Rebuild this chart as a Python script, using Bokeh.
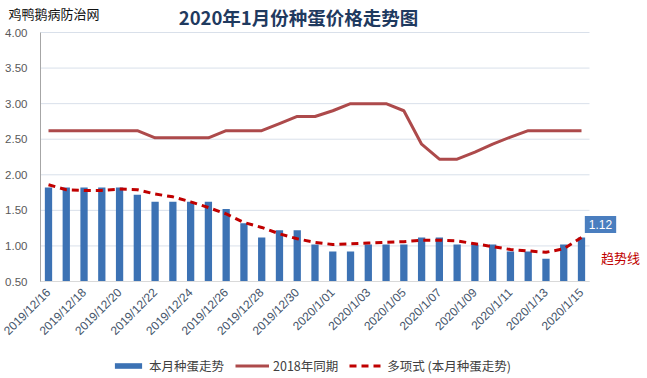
import math
from bokeh.plotting import figure
from bokeh.models import (ColumnDataSource, FixedTicker, Label, Legend, LegendItem,
                          Range1d)
from bokeh.embed import file_html
from bokeh.resources import INLINE

# ---------------- data ----------------
dates = ["2019/12/16", "2019/12/17", "2019/12/18", "2019/12/19", "2019/12/20",
         "2019/12/21", "2019/12/22", "2019/12/23", "2019/12/24", "2019/12/25",
         "2019/12/26", "2019/12/27", "2019/12/28", "2019/12/29", "2019/12/30",
         "2019/12/31", "2020/1/01", "2020/1/02", "2020/1/03", "2020/1/04",
         "2020/1/05", "2020/1/06", "2020/1/07", "2020/1/08", "2020/1/09",
         "2020/1/10", "2020/1/11", "2020/1/12", "2020/1/13", "2020/1/14",
         "2020/1/15"]

this_month = [1.82, 1.82, 1.82, 1.82, 1.82, 1.72, 1.62, 1.62, 1.62, 1.62,
              1.52, 1.32, 1.12, 1.22, 1.22, 1.02, 0.92, 0.92, 1.02, 1.02,
              1.02, 1.12, 1.12, 1.02, 1.02, 1.02, 0.92, 0.92, 0.82, 1.02,
              1.12]

same_period_2018 = [2.62, 2.62, 2.62, 2.62, 2.62, 2.62, 2.52, 2.52, 2.52, 2.52,
                    2.62, 2.62, 2.62, 2.72, 2.82, 2.82, 2.90, 3.00, 3.00, 3.00,
                    2.90, 2.43, 2.22, 2.22, 2.32, 2.43, 2.53, 2.62, 2.62, 2.62,
                    2.62]

trend = [1.86, 1.79, 1.78, 1.78, 1.80, 1.79, 1.73, 1.69, 1.62, 1.54,
         1.45, 1.33, 1.26, 1.17, 1.10, 1.05, 1.02, 1.03, 1.04, 1.05,
         1.06, 1.08, 1.08, 1.07, 1.03, 0.99, 0.95, 0.93, 0.91, 0.96,
         1.12]

y_ticks = [0.5, 1.0, 1.5, 2.0, 2.5, 3.0, 3.5, 4.0]

series_names = ["本月种蛋走势", "2018年同期", "多项式 (本月种蛋走势)"]
title_text = "2020年1月份种蛋价格走势图"
watermark = "鸡鸭鹅病防治网"
trend_note = "趋势线"

# ---------------- layout constants (pixels) ----------------
W, H = 647, 378
FRAME_L, FRAME_R, FRAME_T, FRAME_B = 40, 589, 32, 281   # visual plot area
X0_PX, XN_PX = 48, 581                                  # first / last category centre

n = len(dates)
px_per_x = (XN_PX - X0_PX) / (n - 1)
px_per_y = (FRAME_B - FRAME_T) / (y_ticks[-1] - y_ticks[0])
x_lo = -(X0_PX - FRAME_L) / px_per_x           # left end of plot area (data)
x_hi = (n - 1) + (FRAME_R - XN_PX) / px_per_x  # right end of plot area (data)

# the canvas-wide frame lets annotations sit anywhere on the page
x_start = -X0_PX / px_per_x
x_end = (W - X0_PX) / px_per_x
y_start = y_ticks[0] - (H - FRAME_B) / px_per_y
y_end = y_ticks[-1] + FRAME_T / px_per_y

xs = list(range(n))
src = ColumnDataSource(dict(x=xs, v=this_month, ly=same_period_2018, tr=trend))

CJK = "Noto Sans CJK SC"

p = figure(width=W, height=H,
           x_range=Range1d(x_start, x_end), y_range=Range1d(y_start, y_end),
           output_backend="svg", toolbar_location=None,
           min_border_left=0, min_border_right=0,
           min_border_top=0, min_border_bottom=0)
p.title.text = ""
p.outline_line_color = None
p.background_fill_color = "white"
p.border_fill_color = "white"
p.xgrid.visible = False
p.ygrid.visible = False

# horizontal gridlines limited to the plot area
p.segment(x0=[x_lo] * len(y_ticks), x1=[x_hi] * len(y_ticks),
          y0=y_ticks, y1=y_ticks, line_color="#d9e0ea", line_width=1)

bars = p.vbar(x="x", top="v", bottom=y_ticks[0], width=0.41, source=src,
              fill_color="#3c72b4", line_color=None)
l2018 = p.line(x="x", y="ly", source=src, line_color="#ad4a4b", line_width=3)
ltr = p.line(x="x", y="tr", source=src, line_color="#c00000", line_width=3,
             line_dash="7 5")

# y axis
p.yaxis.fixed_location = x_lo
p.yaxis.bounds = (y_ticks[0], y_ticks[-1])
p.yaxis.ticker = FixedTicker(ticks=y_ticks)
p.yaxis.major_label_overrides = {t: f"{t:.2f}" for t in y_ticks}
p.yaxis.axis_line_color = "#a6a6a6"
p.yaxis.major_tick_line_color = None
p.yaxis.minor_tick_line_color = None
p.yaxis.major_tick_out = 0
p.yaxis.major_tick_in = 0
p.yaxis.major_label_standoff = 13
p.yaxis.major_label_text_font = "Liberation Sans"
p.yaxis.major_label_text_font_size = "11.5px"
p.yaxis.major_label_text_color = "#595959"

# x axis
shown = xs[::2]
p.xaxis.fixed_location = y_ticks[0]
p.xaxis.bounds = (x_lo, x_hi)
p.xaxis.ticker = FixedTicker(ticks=shown)
p.xaxis.major_label_overrides = {i: dates[i] for i in shown}
p.xaxis.major_label_orientation = math.pi / 4
p.xaxis.axis_line_color = "#d9d9d9"
p.xaxis.major_tick_line_color = None
p.xaxis.minor_tick_line_color = None
p.xaxis.major_tick_out = 0
p.xaxis.major_tick_in = 0
p.xaxis.major_label_standoff = 9
p.xaxis.major_label_text_font = "Liberation Sans"
p.xaxis.major_label_text_font_size = "12px"
p.xaxis.major_label_text_color = "#44546a"

# legend at the bottom
legend = Legend(items=[LegendItem(label=series_names[0], renderers=[bars]),
                       LegendItem(label=series_names[1], renderers=[l2018]),
                       LegendItem(label=series_names[2], renderers=[ltr])],
                orientation="horizontal", location=(111, 3),
                glyph_width=34, glyph_height=7, label_height=14,
                label_standoff=4, spacing=11, padding=0, margin=0,
                border_line_color=None, background_fill_alpha=0,
                label_text_font=CJK, label_text_font_size="12.5px",
                label_text_color="#404040")
p.add_layout(legend, "center")

# title & watermark (screen units, origin bottom-left of the frame = canvas)
p.add_layout(Label(x=298, y=H - 16, x_units="screen", y_units="screen",
                   text=title_text, text_align="center", text_baseline="middle",
                   text_font=CJK, text_font_style="bold",
                   text_font_size="18.5px", text_color="#1f3a5f"))
p.add_layout(Label(x=8, y=H - 13, x_units="screen", y_units="screen",
                   text=watermark, text_align="left", text_baseline="middle",
                   text_font=CJK, text_font_size="13px", text_color="#111111"))

# last-value callout
p.add_layout(Label(x=xs[-1], y=this_month[-1], x_offset=19, y_offset=13,
                   text=f"{this_month[-1]:.2f}", text_align="center",
                   text_baseline="middle", text_font="Liberation Sans",
                   text_font_size="12px", text_color="white",
                   background_fill_color="#4a7ebf", padding=4))
p.add_layout(Label(x=xs[-1], y=trend[-1], x_offset=39, y_offset=-20,
                   text=trend_note, text_align="center",
                   text_baseline="middle", text_font=CJK,
                   text_font_size="13px", text_color="#c00000"))

open("out.html", "w").write(file_html(p, INLINE))
